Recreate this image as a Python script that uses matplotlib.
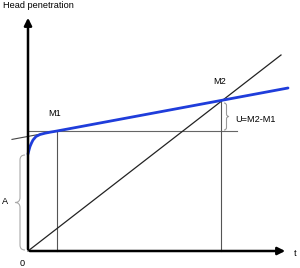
import matplotlib.pyplot as plt
from matplotlib.path import Path
from matplotlib.patches import PathPatch

plt.rcParams['font.family'] = ['Liberation Sans', 'DejaVu Sans']

# curve data (t, head penetration) in diagram units
curve_t = [0, 1, 2, 3.5, 5, 8, 12, 17, 22, 29, 260]
curve_h = [97, 101, 104.5, 108, 111, 114.5, 116.5, 117.8, 118.8, 120, 163]
tangent_t = [-16, 260]
tangent_h = [111.6, 163]
diag_t = [0, 253]
diag_h = [0, 196]
m1 = (29, 120)
m2 = (193, 150.5)
h_line_end = 209
axis_x_end = 260
axis_y_end = 236


def brace(ax, xb, xt, y0, y1, color):
    xm = (xb + xt) / 2
    ym = (y0 + y1) / 2
    r = min(abs(xb - xt) / 2, (y1 - y0) / 4)
    verts = [(xb, y1), (xm, y1), (xm, y1 - r), (xm, ym + r),
             (xm, ym), (xt, ym), (xm, ym), (xm, ym - r),
             (xm, y0 + r), (xm, y0), (xb, y0)]
    codes = [Path.MOVETO, Path.CURVE3, Path.CURVE3, Path.LINETO,
             Path.CURVE3, Path.CURVE3, Path.CURVE3, Path.CURVE3,
             Path.LINETO, Path.CURVE3, Path.CURVE3]
    ax.add_patch(PathPatch(Path(verts, codes), fill=False, ec=color, lw=0.8))


fig = plt.figure(figsize=(3.0, 2.68), dpi=100)
ax = fig.add_axes([0, 0, 1, 1])
ax.set_xlim(-28, 272)
ax.set_ylim(-17, 251)
ax.axis('off')

# guide lines
ax.plot([0, h_line_end], [m1[1], m1[1]], color='#666666', lw=0.8)
ax.plot([m1[0], m1[0]], [0, m1[1]], color='#555555', lw=0.8)
ax.plot([m2[0], m2[0]], [0, m2[1]], color='#555555', lw=0.8)
ax.plot(tangent_t, tangent_h, color='#444444', lw=0.8)
ax.plot(diag_t, diag_h, color='#222222', lw=0.9)

# measured curve
ax.plot(curve_t, curve_h, color='#1f3ddb', lw=2.0, solid_capstyle='round')

# axes with arrows
ax.annotate('', xy=(0, axis_y_end), xytext=(0, -1),
            arrowprops=dict(arrowstyle='-|>', color='black', lw=1.8, mutation_scale=11))
ax.annotate('', xy=(axis_x_end, 0), xytext=(-1, 0),
            arrowprops=dict(arrowstyle='-|>', color='black', lw=1.8, mutation_scale=11))

# braces
brace(ax, -3, -13, 1, 96, '#aaaaaa')
brace(ax, 196, 201, 121, 148, '#999999')

fs = 6.6
ax.text(-25, 245, 'Head penetration', fontsize=fs, ha='left', va='center')
ax.text(267, -2, 't', fontsize=fs, ha='center', va='center')
ax.text(-6, -12, '0', fontsize=fs, ha='center', va='center')
ax.text(26.5, 138, 'M1', fontsize=fs, ha='center', va='center')
ax.text(191.5, 169, 'M2', fontsize=fs, ha='center', va='center')
ax.text(-23, 49, 'A', fontsize=fs, ha='center', va='center')
ax.text(207, 132, 'U=M2-M1', fontsize=fs, ha='left', va='center')

plt.savefig('out.png', dpi=100)
